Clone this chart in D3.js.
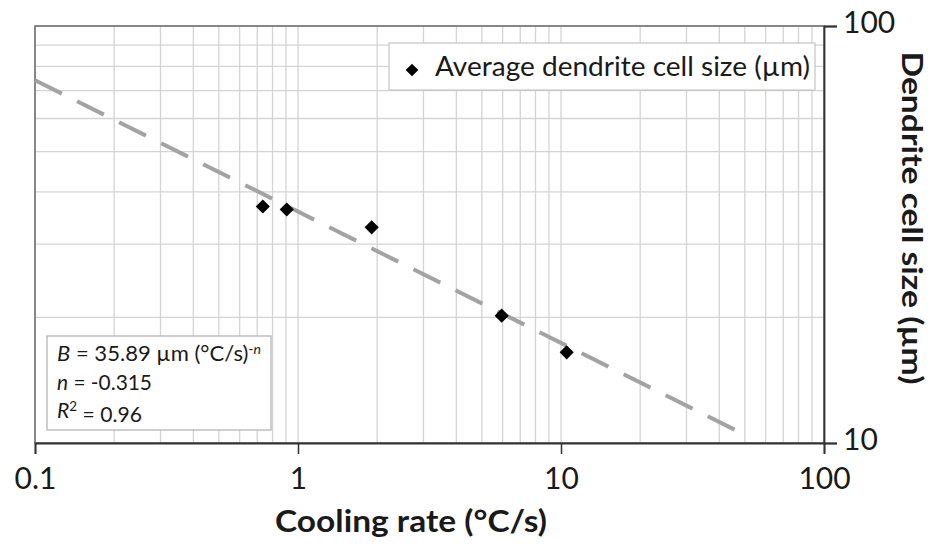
<!DOCTYPE html>
<html>
<head>
<meta charset="utf-8">
<script src="https://cdn.jsdelivr.net/npm/d3@7"></script>
<style>
  body { margin: 0; background: #fff; }
  text { font-family: Lato, "Open Sans", "Noto Sans", sans-serif; fill: #1a1a1a; }
</style>
</head>
<body>
<svg id="chart" width="932" height="549"></svg>
<script>
// Measured cooling rate (°C/s) and average dendrite cell size (µm)
const coolingRate = [0.735, 0.906, 1.906, 5.95, 10.51];
const cellSize    = [36.9, 36.3, 32.9, 20.2, 16.5];

// Power-law fit  size = B * rate^n
const fitB = 35.89;
const fitN = -0.315;
const fitR2 = 0.96;
const fitRange = [0.1, 50];

const xTickValues = [0.1, 1, 10, 100];
const xTickLabels = ["0.1", "1", "10", "100"];
const yTickValues = [10, 100];
const yTickLabels = ["10", "100"];

const legendLabel = "Average dendrite cell size (µm)";
const xTitle = "Cooling rate (°C/s)";
const yTitle = "Dendrite cell size (µm)";

const svg = d3.select("#chart");
const plot = { left: 35, right: 824, top: 26, bottom: 443 };

const x = d3.scaleLog().domain([0.1, 100]).range([plot.left, plot.right]);
const y = d3.scaleLog().domain([10, 100]).range([plot.bottom, plot.top]);

// gridlines
const grid = svg.append("g").attr("class", "grid");
grid.selectAll("line.vx").data(x.ticks()).join("line")
  .attr("x1", d => x(d)).attr("x2", d => x(d))
  .attr("y1", plot.top).attr("y2", plot.bottom)
  .attr("stroke", "#d4d4d4").attr("stroke-width", 1.3);
grid.selectAll("line.hy").data(y.ticks()).join("line")
  .attr("x1", plot.left).attr("x2", plot.right)
  .attr("y1", d => y(d)).attr("y2", d => y(d))
  .attr("stroke", "#d4d4d4").attr("stroke-width", 1.3);

// plot frame
svg.append("rect")
  .attr("x", plot.left).attr("y", plot.top)
  .attr("width", plot.right - plot.left).attr("height", plot.bottom - plot.top)
  .attr("fill", "none").attr("stroke", "#6b6b6b").attr("stroke-width", 1.5);

// x axis (bottom)
const xAxis = d3.axisBottom(x).tickValues(xTickValues)
  .tickFormat((d, i) => xTickLabels[i]).tickSize(11).tickPadding(8);
const gx = svg.append("g").attr("transform", `translate(0,${plot.bottom})`).call(xAxis);
gx.select(".domain").attr("stroke", "#333").attr("stroke-width", 1.8);
gx.selectAll(".tick line").attr("stroke", "#333").attr("stroke-width", 1.5);
gx.selectAll(".tick text")
  .style("font-family", "Lato, sans-serif").style("font-size", "30px")
  .attr("fill", "#1a1a1a").attr("dy", "0.9em");

// y axis (right)
const yAxis = d3.axisRight(y).tickValues(yTickValues)
  .tickFormat((d, i) => yTickLabels[i]).tickSize(13).tickPadding(6);
const gy = svg.append("g").attr("transform", `translate(${plot.right},0)`).call(yAxis);
gy.select(".domain").attr("stroke", "#333").attr("stroke-width", 1.8);
gy.selectAll(".tick line").attr("stroke", "#333").attr("stroke-width", 1.5);
gy.selectAll(".tick text")
  .style("font-family", "Lato, sans-serif").style("font-size", "30px")
  .attr("fill", "#1a1a1a").attr("dy", "0.2em");

// fitted power-law trend line
const fitLine = d3.line().x(d => x(d)).y(d => y(fitB * Math.pow(d, fitN)));
svg.append("path")
  .datum(fitRange)
  .attr("d", fitLine)
  .attr("fill", "none")
  .attr("stroke", "#a3a3a3")
  .attr("stroke-width", 4)
  .attr("stroke-dasharray", "30,17");

// data points (square diamonds)
const marker = d3.symbol().type(d3.symbolSquare).size(100);
svg.append("g").selectAll("path")
  .data(coolingRate.map((c, i) => [c, cellSize[i]]))
  .join("path")
  .attr("transform", d => `translate(${x(d[0])},${y(d[1])}) rotate(45)`)
  .attr("d", marker)
  .attr("fill", "#000");

// legend
const lg = svg.append("g");
lg.append("rect").attr("x", 389).attr("y", 43).attr("width", 426).attr("height", 47)
  .attr("fill", "#fff").attr("stroke", "#c8c8c8").attr("stroke-width", 1.3);
lg.append("path").attr("transform", "translate(412,70) rotate(45)")
  .attr("d", d3.symbol().type(d3.symbolSquare).size(80)).attr("fill", "#000");
lg.append("text").attr("x", 435).attr("y", 76)
  .style("font-size", "27px")
  .attr("textLength", 375).attr("lengthAdjust", "spacingAndGlyphs")
  .text(legendLabel);

// fit parameters box
const eb = svg.append("g");
eb.append("rect").attr("x", 47).attr("y", 336).attr("width", 224).attr("height", 94)
  .attr("fill", "#fff").attr("stroke", "#b5b5b5").attr("stroke-width", 1.3);
const l1 = eb.append("text").attr("x", 57).attr("y", 361).style("font-size", "22px")
  .attr("textLength", 204).attr("lengthAdjust", "spacingAndGlyphs");
l1.append("tspan").style("font-style", "italic").text("B");
l1.append("tspan").text(` = ${fitB} µm (°C/s)`);
l1.append("tspan").attr("dy", "-0.5em").style("font-size", "14px").text("-");
l1.append("tspan").style("font-size", "14px").style("font-style", "italic").text("n");
const l2 = eb.append("text").attr("x", 57).attr("y", 390).style("font-size", "22px")
  .attr("textLength", 95).attr("lengthAdjust", "spacingAndGlyphs");
l2.append("tspan").style("font-style", "italic").text("n");
l2.append("tspan").text(` = ${fitN}`);
const l3 = eb.append("text").attr("x", 57).attr("y", 418).style("font-size", "22px")
  .attr("textLength", 85).attr("lengthAdjust", "spacingAndGlyphs");
l3.append("tspan").style("font-style", "italic").text("R");
l3.append("tspan").attr("dy", "-0.5em").style("font-size", "14px").text("2");
l3.append("tspan").attr("dy", "0.5em").text(` = ${fitR2}`);

// axis titles
svg.append("text").attr("x", 411).attr("y", 532)
  .attr("text-anchor", "middle")
  .style("font-size", "30px").style("font-weight", "bold")
  .attr("textLength", 272).attr("lengthAdjust", "spacingAndGlyphs")
  .text(xTitle);
svg.append("text")
  .attr("transform", "translate(902,218) rotate(90)")
  .attr("text-anchor", "middle")
  .style("font-size", "29px").style("font-weight", "bold")
  .attr("textLength", 333).attr("lengthAdjust", "spacingAndGlyphs")
  .text(yTitle);
</script>
</body>
</html>
